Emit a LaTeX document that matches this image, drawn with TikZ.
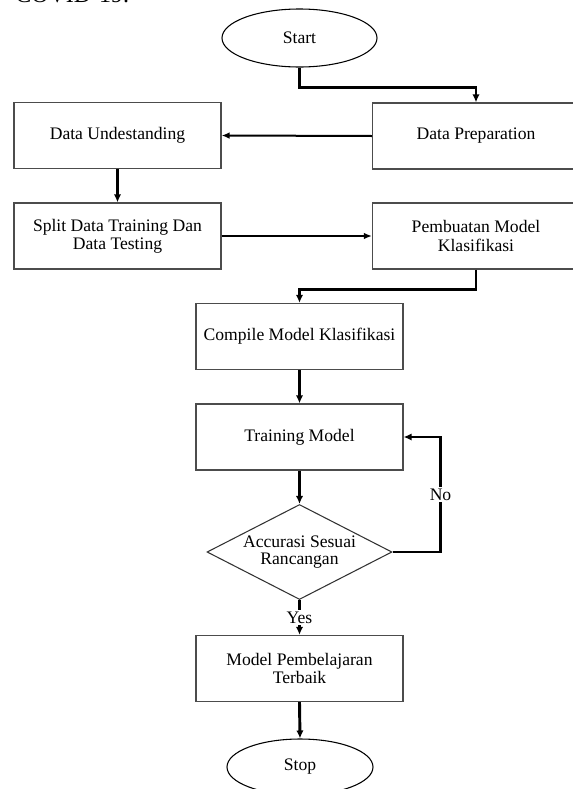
\documentclass[tikz,border=0pt]{standalone}
\usepackage{fontspec}
\setmainfont{Liberation Serif}
\usetikzlibrary{shapes.geometric,arrows.meta}

\begin{document}
\begin{tikzpicture}[x=0.75pt,y=-0.75pt,
    box/.style={rectangle,draw=black!70,line width=0.9pt,minimum width=155.25pt,minimum height=49.5pt,align=center,font=\fontsize{13.2pt}{13.6pt}\selectfont},
    term/.style={ellipse,draw,line width=0.8pt,inner sep=0pt,font=\fontsize{13.2pt}{13.6pt}\selectfont},
    cond/.style={diamond,draw=black!80,line width=0.8pt,aspect=1.95,minimum width=138.75pt,minimum height=71.25pt,inner sep=0pt,align=center,font=\fontsize{13.2pt}{12.8pt}\selectfont},
    flow/.style={line width=2.2pt,-{Latex[length=6pt,width=5.5pt]}},
    side/.style={line width=1.5pt,-{Latex[length=6pt,width=5pt]}},
    lbl/.style={fill=white,inner sep=1pt,font=\fontsize{13.2pt}{13.6pt}\selectfont}]
\clip (0,0) rectangle (573,789);
\node[anchor=base west,inner sep=0pt,font=\fontsize{18pt}{20pt}\selectfont] (0) at (15,2) {COVID-19.};
\node[term,minimum width=116.25pt,minimum height=43.5pt] (1) at (299.5,38) {Start};
\node[box] (2) at (476,136) {Data Preparation};
\node[box] (3) at (117.5,135.5) {Data Undestanding};
\node[box] (4) at (117.5,236) {Split Data Training Dan\\Data Testing};
\node[box] (5) at (476,236) {Pembuatan Model\\Klasifikasi};
\node[box] (6) at (299.5,336.5) {Compile Model Klasifikasi};
\node[box] (7) at (299.5,437) {Training Model};
\node[cond] (8) at (299.5,552) {Accurasi Sesuai\\Rancangan};
\node[box] (9) at (299.5,668.5) {Model Pembelajaran\\Terbaik};
\node[term,minimum width=109.5pt,minimum height=42pt] (10) at (300,767) {Stop};
\draw[flow] (1.south) -- ++(0,20) -| (2.north);
\draw[side] (2.west) -- (3.east);
\draw[flow] (3.south) -- (4.north);
\draw[side] (4.east) -- (5.west);
\draw[flow] (5.south) -- ++(0,20) -| (6.north);
\draw[flow] (6.south) -- (7.north);
\draw[flow] (7.south) -- (8.north);
\draw[flow] (8.east) -- ++(48,0) |- (7.east) node[pos=0.25,lbl] {No};
\draw[flow] (8.south) -- (9.north) node[midway,lbl] {Yes};
\draw[flow] (9.south) -- (10.north);
\end{tikzpicture}
\end{document}
